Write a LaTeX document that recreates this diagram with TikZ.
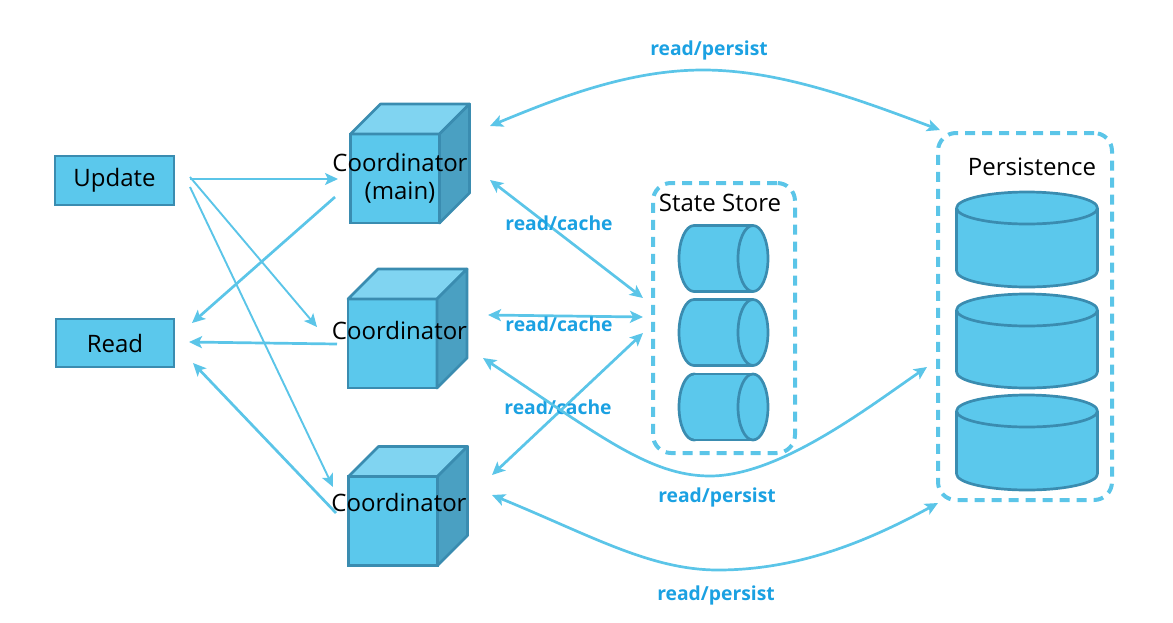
\documentclass[tikz,border=0pt]{standalone}
\usepackage{fontspec}
\setmainfont{Open Sans}
\usetikzlibrary{arrows.meta}

\definecolor{boxfill}{HTML}{5BC8EC}
\definecolor{boxedge}{HTML}{3A8CB0}
\definecolor{boxtop}{HTML}{80D4F1}
\definecolor{boxside}{HTML}{4AA0C2}
\definecolor{linkcol}{HTML}{5BC5E8}
\definecolor{lblcol}{HTML}{1BA1E2}

\begin{document}
\begin{tikzpicture}[x=1pt, y=1pt,
  box/.style={draw=boxedge, fill=boxfill, line width=2.7pt, inner sep=0pt, outer sep=0pt},
  face/.style={draw=boxedge, line width=2.7pt, line join=round},
  group/.style={draw=linkcol, line width=4pt, dash pattern=on 10pt off 7pt, rounded corners=18pt, inner sep=0pt, outer sep=0pt},
  link/.style={draw=linkcol, line width=2.7pt},
  thin link/.style={draw=linkcol, line width=1.9pt},
  txt/.style={font=\fontsize{24}{28}\selectfont, text=black},
  lbl/.style={font=\fontsize{19.3}{22}\selectfont\bfseries, text=lblcol},
  >={Stealth[length=13pt, width=12pt, inset=3pt]}]
  \useasboundingbox (0,0) rectangle (1173,-622);

  % clients
  \node [box, txt, minimum width=119pt, minimum height=49pt] (upd) at (114.5,-180.5) {Update};
  \node [box, txt, minimum width=118pt, minimum height=48pt] (rd) at (115,-343) {Read};

  % coordinators
  \foreach \n/\x/\y in {c1/395/-178.5, c2/392.5/-343.5, c3/393/-521} {
    \node [box, minimum width=89pt, minimum height=89pt] (\n) at (\x,\y) {};
    \filldraw [face, fill=boxtop] (\n.north west) -- ++(30,30) -- ++(89,0) -- (\n.north east) -- cycle;
    \filldraw [face, fill=boxside] (\n.north east) -- ++(30,30) -- ++(0,-89) -- (\n.south east) -- cycle;
  }
  \node [txt, align=center] (t1) at ([xshift=5pt]c1.center) {Coordinator\\(main)};
  \node [txt] (t2) at ([xshift=7pt,yshift=13.5pt]c2.center) {Coordinator};
  \node [txt] (t3) at ([xshift=6pt,yshift=19pt]c3.center) {Coordinator};

  % state store
  \node [group, minimum width=142pt, minimum height=270pt] (ss) at (724,-318) {};
  \node [txt] (sst) at (720,-203) {State Store};
  \foreach \y in {-258.5, -332.5, -407} {
    \filldraw [face, fill=boxfill] (694,\y) ellipse (15 and 33);
    \fill [boxfill] (694,\y-33) rectangle (753,\y+33);
    \draw [face] (694,\y+33) -- (753,\y+33) (694,\y-33) -- (753,\y-33);
    \filldraw [face, fill=boxfill] (753,\y) ellipse (15 and 33);
  }

  % persistence
  \node [group, minimum width=174pt, minimum height=367pt] (ps) at (1025,-316.5) {};
  \node [txt] (pst) at (1032,-167) {Persistence};
  \foreach \t/\b in {-208/-271, -310/-372, -411/-474} {
    \filldraw [face, fill=boxfill] (1027,\b) ellipse (70.5 and 16);
    \fill [boxfill] (956.5,\t) rectangle (1097.5,\b);
    \draw [face] (956.5,\t) -- (956.5,\b) (1097.5,\t) -- (1097.5,\b);
    \filldraw [face, fill=boxfill] (1027,\t) ellipse (70.5 and 16);
  }

  % update and read
  \draw [thin link, ->] ([xshift=16pt,yshift=1.5pt]upd.east) -- ([xshift=-12.5pt,yshift=-0.5pt]c1.west);
  \draw [thin link, ->] ([xshift=16pt,yshift=3.5pt]upd.east) -- ([xshift=-31pt,yshift=16.5pt]c2.west);
  \draw [thin link, ->] ([xshift=16pt,yshift=-6.5pt]upd.east) -- ([xshift=-15.5pt,yshift=34pt]c3.west);
  \draw [link, ->] ([xshift=-15.5pt,yshift=-18.5pt]c1.west) -- ([xshift=18pt,yshift=20pt]rd.east);
  \draw [link, ->] ([xshift=-11pt,yshift=-0.5pt]c2.west) -- ([xshift=15pt,yshift=1pt]rd.east);
  \draw [link, ->] ([xshift=-12.5pt,yshift=8pt]c3.west) -- ([xshift=19pt,yshift=-20pt]rd.east);

  % cache
  \draw [link, <->] ([xshift=50.5pt,yshift=-1.5pt]c1.east) -- ([xshift=-10pt,yshift=20pt]ss.west);
  \draw [link, <->] ([xshift=51pt,yshift=28.5pt]c2.east) -- ([xshift=-10pt,yshift=1pt]ss.west);
  \draw [link, <->] ([xshift=54.5pt,yshift=46pt]c3.east) -- ([xshift=-10pt,yshift=-15pt]ss.west);
  \node [lbl] (rc1) at (559,-223) {read/cache};
  \node [lbl] (rc2) at (559,-324) {read/cache};
  \node [lbl] (rc3) at (558,-407) {read/cache};

  % persist
  \coordinate (hi) at (703,-70);
  \coordinate (low1) at (710,-476);
  \coordinate (low2) at (718,-570);
  \draw [link, <->] ([xshift=50.5pt,yshift=52.5pt]c1.east) .. controls (560,-97) and (630,-70) .. (hi)
    .. controls (780,-70) and (860,-100) .. ([xshift=2pt,yshift=3pt]ps.north west);
  \draw [link, <->] ([xshift=46pt,yshift=-14.5pt]c2.east) .. controls (600,-436) and (650,-476) .. (low1)
    .. controls (780,-476) and (870,-406) .. ([xshift=-11pt,yshift=-50.5pt]ps.west);
  \draw [link, <->] ([xshift=54.5pt,yshift=26pt]c3.east) .. controls (590,-535) and (650,-570) .. (low2)
    .. controls (800,-570) and (870,-540) .. ([yshift=-3pt]ps.south west);
  \node [lbl] (rp1) at (709,-50) {read/persist};
  \node [lbl] (rp2) at (717,-497) {read/persist};
  \node [lbl] (rp3) at (716,-595) {read/persist};
\end{tikzpicture}
\end{document}
